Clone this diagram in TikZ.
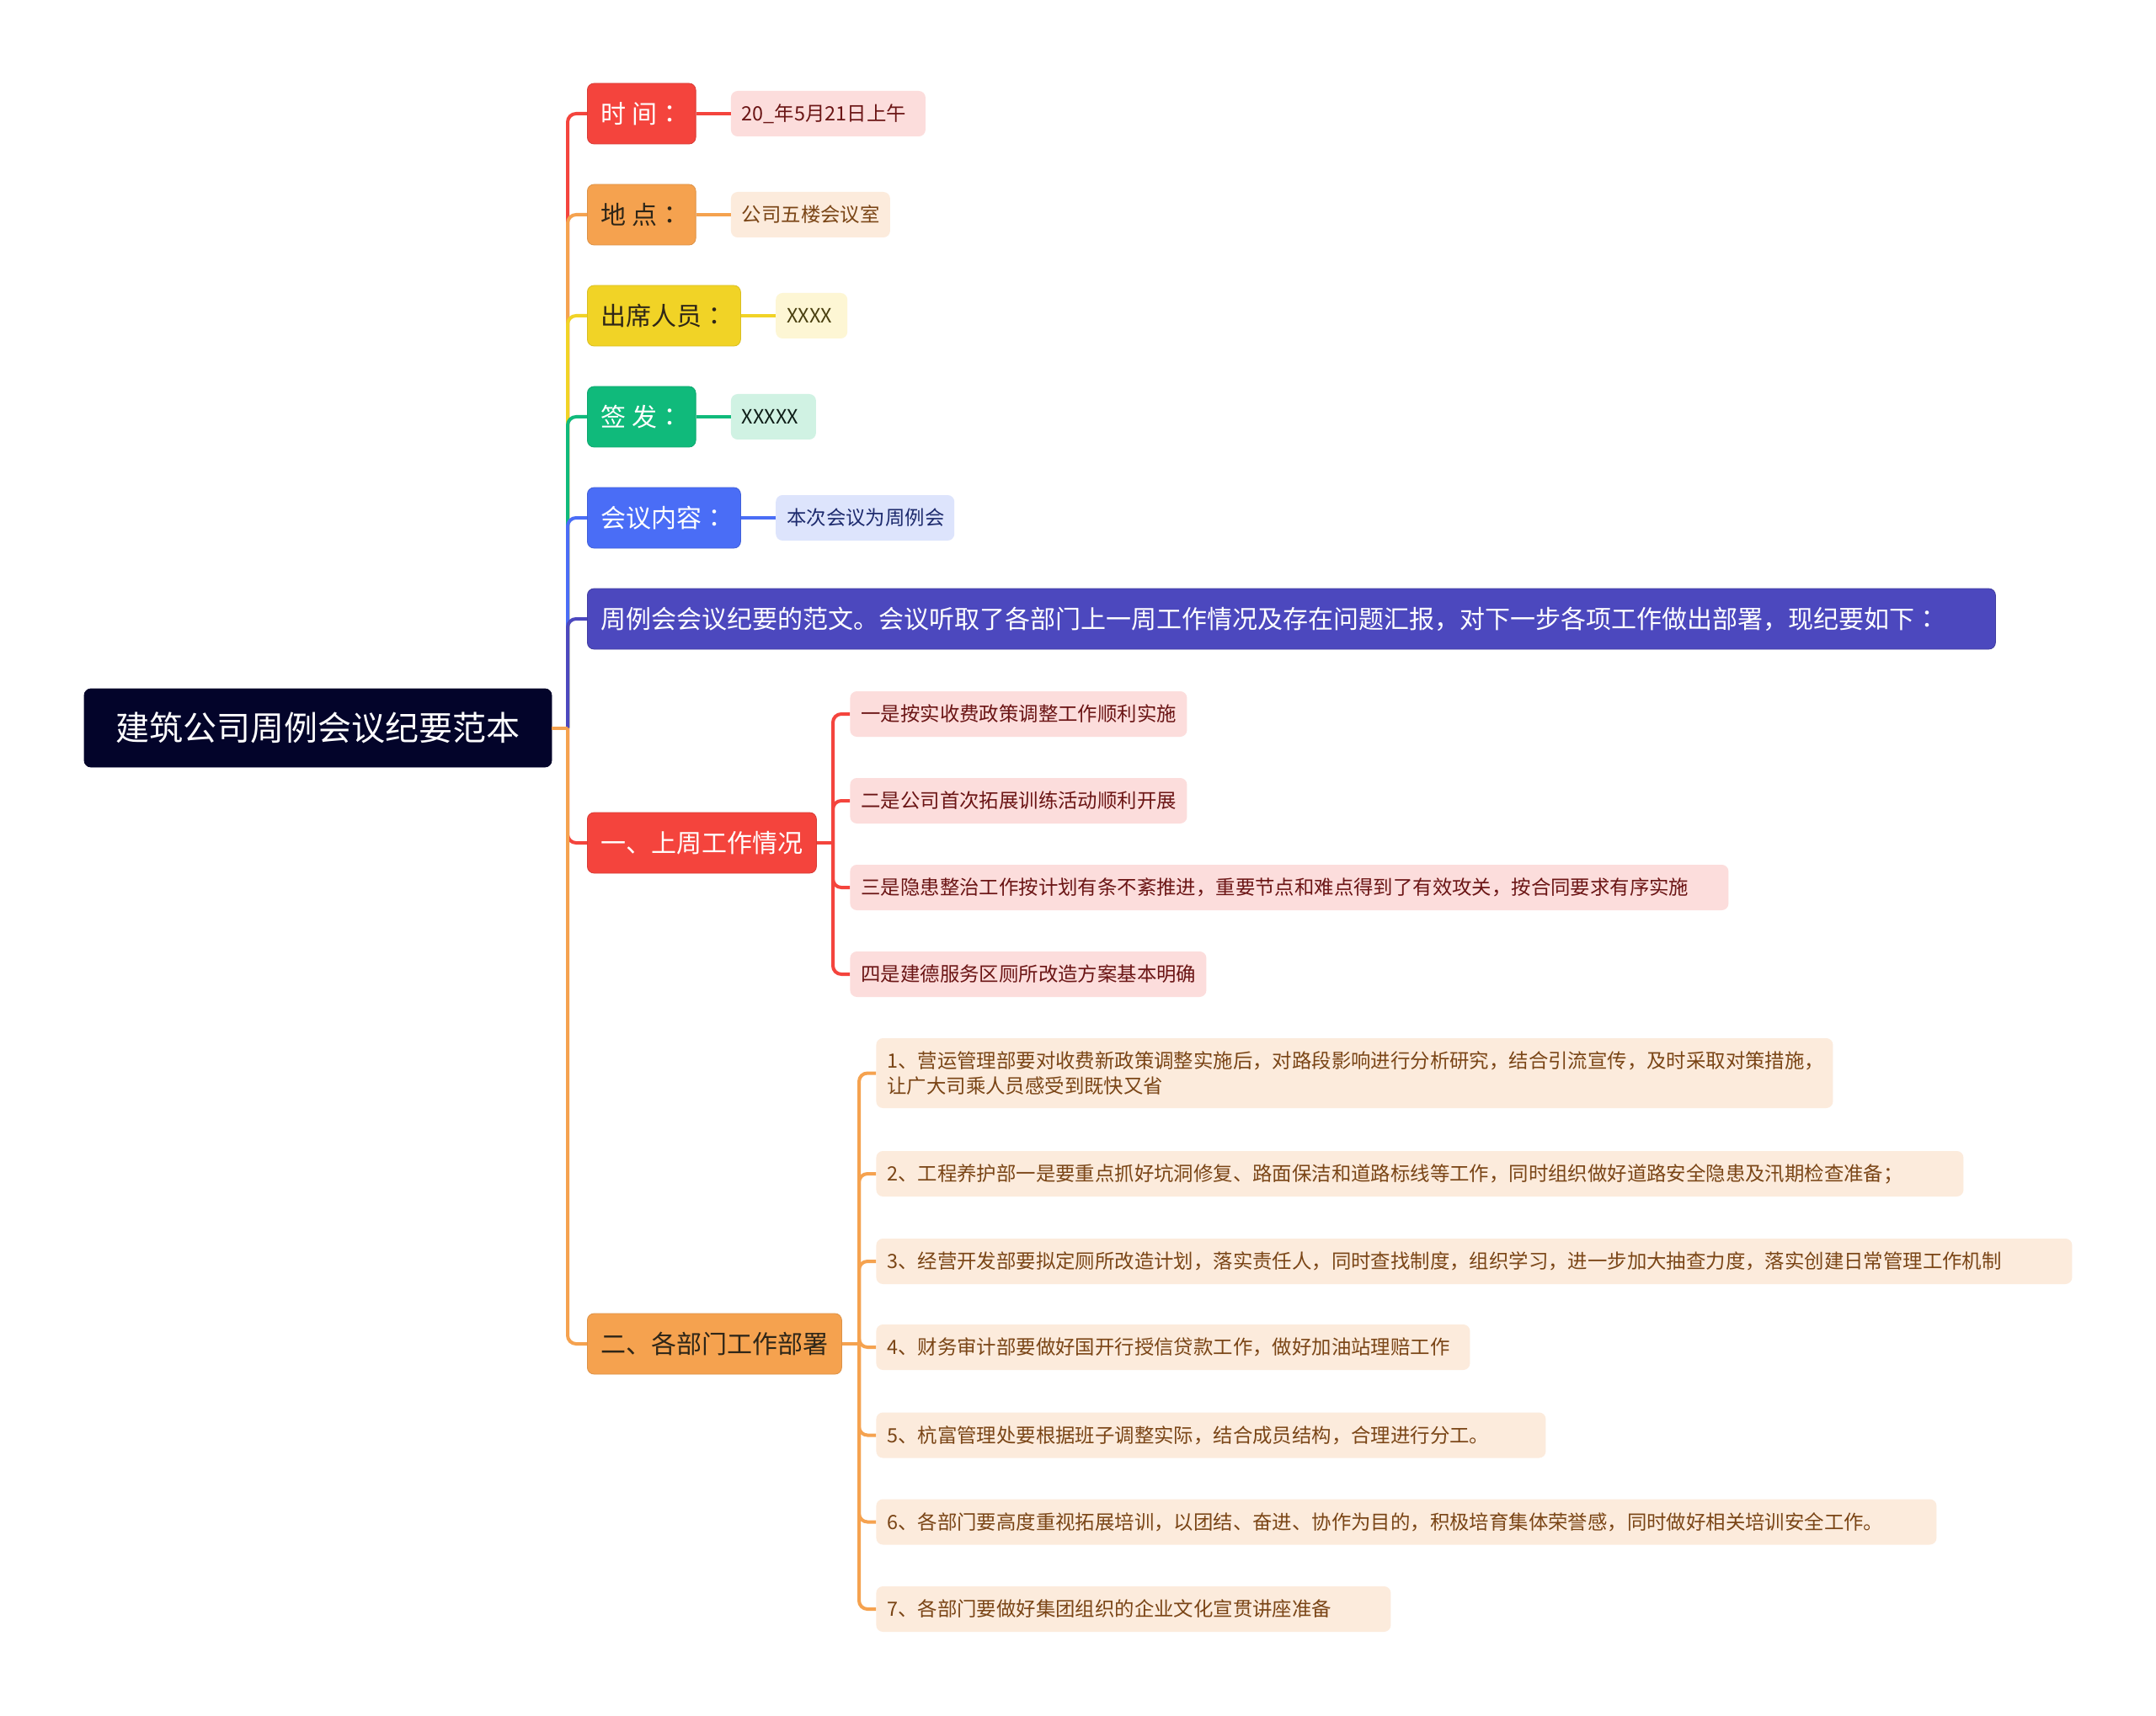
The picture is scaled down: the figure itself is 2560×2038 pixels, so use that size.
\documentclass[tikz,border=0pt]{standalone}
\usepackage{fontspec}
\setmainfont{Noto Sans CJK SC}
\newfontfamily\tcpunct{Noto Sans CJK TC}
\newcommand{\colonmark}{{\tcpunct ：}}
\usepackage{xcolor}
\usetikzlibrary{positioning}
\definecolor{rootnavy}{HTML}{03042A}
\definecolor{topred}{HTML}{F4443D}
\definecolor{toporange}{HTML}{F5A24F}
\definecolor{topyellow}{HTML}{F1D326}
\definecolor{topgreen}{HTML}{10BA7B}
\definecolor{topblue}{HTML}{4A6DF6}
\definecolor{toppurple}{HTML}{4C48BE}
\definecolor{darktx}{HTML}{2E2618}
\definecolor{leafred}{HTML}{FCDDDC}
\definecolor{leafredtx}{HTML}{6B1515}
\definecolor{leaforange}{HTML}{FCEBDC}
\definecolor{leaforangetx}{HTML}{7A4516}
\definecolor{leafyellow}{HTML}{FDF6D4}
\definecolor{leafyellowtx}{HTML}{4A4010}
\definecolor{leafgreen}{HTML}{D0F2E3}
\definecolor{leafgreentx}{HTML}{0E1E18}
\definecolor{leafblue}{HTML}{DDE4FC}
\definecolor{leafbluetx}{HTML}{1E2B6E}
\tikzset{
  every node/.style={inner ysep=2pt},
  rootbox/.style={fill=rootnavy,draw=rootnavy,rounded corners=4pt,text=white,font=\fontsize{20pt}{24pt}\selectfont,minimum height=46.5pt,inner xsep=18.75pt},
  topic/.style={rounded corners=4pt,minimum height=36pt,inner xsep=8pt,font=\fontsize{15pt}{18pt}\selectfont,anchor=west},
  tred/.style={topic,fill=topred,draw=topred!88!black,text=white},
  torange/.style={topic,fill=toporange,draw=toporange!90!black,text=darktx},
  tyellow/.style={topic,fill=topyellow,draw=topyellow!90!black,text=darktx},
  tgreen/.style={topic,fill=topgreen,draw=topgreen!90!black,text=white},
  tblue/.style={topic,fill=topblue,draw=topblue!88!black,text=white},
  tpurple/.style={topic,fill=toppurple,draw=toppurple!85!black,text=white,align=left},
  leaf/.style={rounded corners=4pt,minimum height=27pt,inner xsep=6.5pt,font=\fontsize{11.7pt}{15pt}\selectfont,align=left,anchor=west},
  lred/.style={leaf,fill=leafred,text=leafredtx,text width=#1},
  lorange/.style={leaf,fill=leaforange,text=leaforangetx,text width=#1},
  lyellow/.style={leaf,fill=leafyellow,text=leafyellowtx,text width=#1},
  lgreen/.style={leaf,fill=leafgreen,text=leafgreentx,text width=#1},
  lblue/.style={leaf,fill=leafblue,text=leafbluetx,text width=#1},
  link/.style={line width=2pt,rounded corners=5pt}
}
\begin{document}
\begin{tikzpicture}[x=0.5pt,y=-0.5pt,node distance=20.5pt]
  \path[fill=white,use as bounding box] (0,0) rectangle (2560,2038);

  \node[rootbox] (root) at (377.5,864.5) {建筑公司周例会议纪要范本};
  \coordinate (trunk) at (674,864.5);

  % first level
  \node[tred] (when) at (697,135) {时 间\colonmark};
  \node[torange] (where) at (697,255) {地 点\colonmark};
  \node[tyellow] (attend) at (697,375) {出席人员\colonmark};
  \node[tgreen] (issuer) at (697,495) {签 发\colonmark};
  \node[tblue] (content) at (697,615) {会议内容\colonmark};
  \node[tpurple,text width=820pt] (summary) at (697,735) {周例会会议纪要的范文。会议听取了各部门上一周工作情况及存在问题汇报，对下一步各项工作做出部署，现纪要如下\colonmark};
  \node[tred] (lastweek) at (697,1001) {一、上周工作情况};
  \node[torange] (deploy) at (697,1596) {二、各部门工作部署};

  % single values
  \node[lred=102.5pt,right=of when] (whenv) {20\_年5月21日上午};
  \node[lorange=81.5pt,right=of where] (wherev) {公司五楼会议室};
  \node[lyellow=29.5pt,right=of attend] (attendv) {XXXX};
  \node[lgreen=37.5pt,right=of issuer] (issuerv) {XXXXX};
  \node[lblue=93pt,right=of content] (contentv) {本次会议为周例会};

  % last week
  \coordinate (lwfork) at (989,1001);
  \node[lred=187pt] (lw1) at (1009,848) {一是按实收费政策调整工作顺利实施};
  \node[lred=187pt] (lw2) at (1009,951) {二是公司首次拓展训练活动顺利开展};
  \node[lred=508.5pt] (lw3) at (1009,1054) {三是隐患整治工作按计划有条不紊推进，重要节点和难点得到了有效攻关，按合同要求有序实施};
  \node[lred=198.5pt] (lw4) at (1009,1157) {四是建德服务区厕所改造方案基本明确};

  % departments
  \coordinate (dpfork) at (1020,1596);
  \node[lorange=555pt,minimum height=41.5pt] (dp1) at (1040,1274.5) {1、营运管理部要对收费新政策调整实施后，对路段影响进行分析研究，结合引流宣传，及时采取对策措施，\\让广大司乘人员感受到既快又省};
  \node[lorange=632.5pt] (dp2) at (1040,1394) {2、工程养护部一是要重点抓好坑洞修复、路面保洁和道路标线等工作，同时组织做好道路安全隐患及汛期检查准备；};
  \node[lorange=697pt] (dp3) at (1040,1498) {3、经营开发部要拟定厕所改造计划，落实责任人，同时查找制度，组织学习，进一步加大抽查力度，落实创建日常管理工作机制};
  \node[lorange=339.5pt] (dp4) at (1040,1600) {4、财务审计部要做好国开行授信贷款工作，做好加油站理赔工作};
  \node[lorange=384.5pt] (dp5) at (1040,1704.5) {5、杭富管理处要根据班子调整实际，结合成员结构，合理进行分工。};
  \node[lorange=616.5pt] (dp6) at (1040,1807.5) {6、各部门要高度重视拓展培训，以团结、奋进、协作为目的，积极培育集体荣誉感，同时做好相关培训安全工作。};
  \node[lorange=292.5pt] (dp7) at (1040,1911) {7、各部门要做好集团组织的企业文化宣贯讲座准备};

  % trunk
  \draw[link,draw=topred] (trunk) |- (when.west);
  \draw[link,draw=toporange] (trunk) |- (where.west);
  \draw[link,draw=topyellow] (trunk) |- (attend.west);
  \draw[link,draw=topgreen] (trunk) |- (issuer.west);
  \draw[link,draw=topblue] (trunk) |- (content.west);
  \draw[link,draw=toppurple] (trunk) |- (summary.west);
  \draw[link,draw=topred] (trunk) |- (lastweek.west);
  \draw[link,draw=toporange] (trunk) |- (deploy.west);
  \draw[link,draw=toporange] (root.east) -- (trunk);

  % values
  \draw[link,draw=topred] (when.east) -- (whenv.west);
  \draw[link,draw=toporange] (where.east) -- (wherev.west);
  \draw[link,draw=topyellow] (attend.east) -- (attendv.west);
  \draw[link,draw=topgreen] (issuer.east) -- (issuerv.west);
  \draw[link,draw=topblue] (content.east) -- (contentv.west);

  \draw[link,draw=topred] (lastweek.east) -- (lwfork);
  \foreach \n in {lw1,lw2,lw3,lw4}
    \draw[link,draw=topred] (lwfork) |- (\n.west);
  \draw[link,draw=toporange] (deploy.east) -- (dpfork);
  \foreach \n in {dp1,dp2,dp3,dp4,dp5,dp6,dp7}
    \draw[link,draw=toporange] (dpfork) |- (\n.west);
\end{tikzpicture}
\end{document}
